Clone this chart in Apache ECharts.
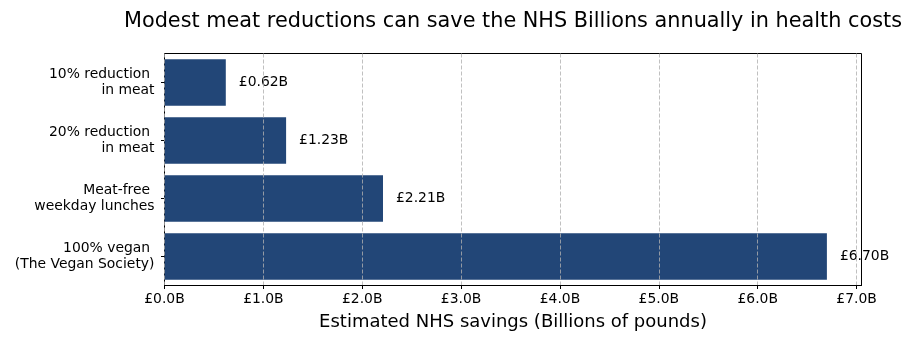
<!DOCTYPE html>
<html><head><meta charset="utf-8">
<script src="https://cdn.jsdelivr.net/npm/echarts@6/dist/echarts.min.js"></script>
<style>html,body{margin:0;padding:0;background:#fff}#c{width:912px;height:341px}</style>
</head><body><div id="c"></div>
<script>
var categories = ["10% reduction \nin meat", "20% reduction \nin meat", "Meat-free \nweekday lunches", "100% vegan \n(The Vegan Society)"];
var savings = [0.62, 1.23, 2.21, 6.70];
var xTicks = [0, 1, 2, 3, 4, 5, 6, 7];
var titleText = "Modest meat reductions can save the NHS Billions annually in health costs";
var xName = "Estimated NHS savings (Billions of pounds)";

var F = "DejaVu Sans";
var chart = echarts.init(document.getElementById('c'), null, {renderer: 'canvas'});
chart.setOption({
  animation: false,
  textStyle: {fontFamily: F},
  title: {text: titleText, left: 508, textAlign: 'center', top: 6,
    textStyle: {fontFamily: F, fontSize: 20.8, fontWeight: 'normal', color: '#000'}},
  grid: {left: 164.5, right: 50.5, top: 53.5, bottom: 55.5, show: true, borderColor: '#000', borderWidth: 1, containLabel: false},
  xAxis: {
    type: 'value', min: 0, max: 7.05, interval: 1, z: 5,
    name: xName, nameLocation: 'middle', nameGap: 28,
    nameTextStyle: {fontFamily: F, fontSize: 18, color: '#000'},
    axisLine: {show: true, lineStyle: {color: '#000', width: 1}},
    axisTick: {show: true, inside: false, length: 3.5, lineStyle: {color: '#000'}, customValues: xTicks},
    axisLabel: {customValues: xTicks, fontFamily: F, fontSize: 13.9, color: '#000', margin: 7,
      formatter: function (v) { return '£' + v.toFixed(1) + 'B'; }},
    splitLine: {show: true, lineStyle: {color: '#b0b0b0', type: [4, 2], width: 0.8}}
  },
  yAxis: {
    type: 'category', data: categories, inverse: true,
    axisLine: {show: true, lineStyle: {color: '#000'}},
    axisTick: {show: true, alignWithLabel: true, length: 3.5, lineStyle: {color: '#000'}},
    axisLabel: {fontFamily: F, fontSize: 13.9, color: '#000', margin: 10, lineHeight: 16, align: 'right'},
    splitLine: {show: false}
  },
  series: [{
    type: 'bar', data: savings, barCategoryGap: '20%', z: 2,
    itemStyle: {color: '#224677'},
    label: {show: true, position: 'right', distance: 13, fontFamily: F, fontSize: 13.9, color: '#000',
      formatter: function (p) { return '£' + p.value.toFixed(2) + 'B'; }}
  }]
});
</script></body></html>
